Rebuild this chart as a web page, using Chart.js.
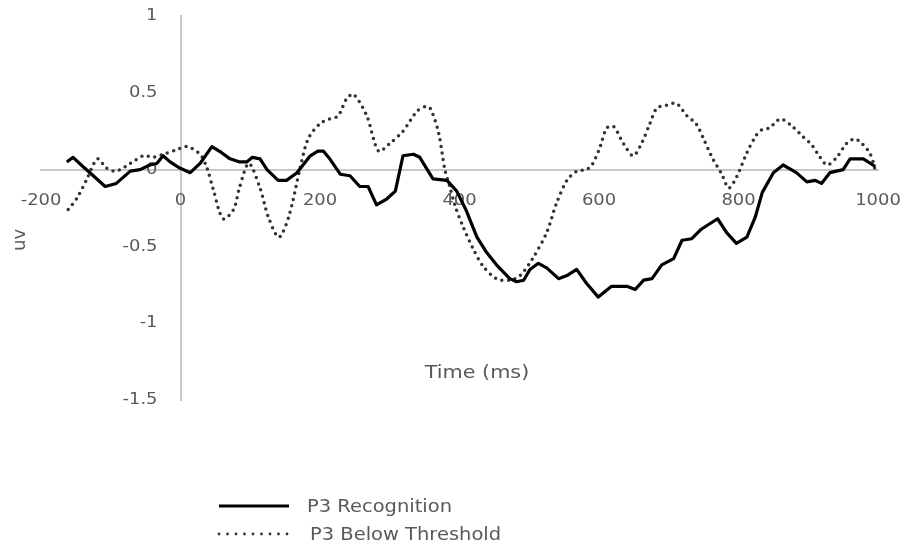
<!DOCTYPE html>
<html>
<head>
<meta charset="utf-8">
<script src="https://cdn.jsdelivr.net/npm/chart.js@4.4.0/dist/chart.umd.min.js"></script>
<style>
  html, body { margin: 0; padding: 0; background: #fff; }
  #wrap { width: 905px; height: 548px; position: relative; }
</style>
</head>
<body>
<div id="wrap"><canvas id="erpChart"></canvas></div>
<script>
// values (time in ms, amplitude in uv)
const recTime = [-163, -154, -140, -125, -108, -92, -72, -58, -44, -34, -25, -15, -1, 14, 28, 45, 59, 71, 85, 95, 103, 114, 124, 140, 152, 167, 186, 197, 205, 214, 229, 243, 257, 269, 281, 296, 308, 319, 334, 343, 362, 382, 396, 410, 425, 439, 453, 472, 482, 492, 501, 513, 525, 542, 554, 568, 582, 599, 618, 640, 652, 664, 676, 690, 707, 719, 733, 746, 770, 783, 797, 812, 824, 834, 850, 864, 883, 898, 910, 919, 931, 950, 960, 979, 996];
const recUv = [0.05, 0.08, 0.02, -0.04, -0.11, -0.09, -0.01, 0.00, 0.03, 0.04, 0.09, 0.05, 0.01, -0.02, 0.04, 0.15, 0.11, 0.07, 0.05, 0.05, 0.08, 0.07, 0.00, -0.07, -0.07, -0.02, 0.09, 0.12, 0.12, 0.07, -0.03, -0.04, -0.11, -0.11, -0.23, -0.19, -0.14, 0.09, 0.10, 0.08, -0.06, -0.07, -0.14, -0.27, -0.44, -0.54, -0.62, -0.71, -0.73, -0.72, -0.65, -0.61, -0.64, -0.71, -0.69, -0.65, -0.74, -0.83, -0.76, -0.76, -0.78, -0.72, -0.71, -0.62, -0.58, -0.46, -0.45, -0.39, -0.32, -0.41, -0.48, -0.44, -0.31, -0.15, -0.02, 0.03, -0.02, -0.08, -0.07, -0.09, -0.02, 0.00, 0.07, 0.07, 0.02];

const belowTime = [-161, -149, -135, -119, -106, -92, -72, -53, -39, -25, -5, 9, 28, 38, 47, 61, 76, 85, 98, 114, 126, 141, 155, 171, 183, 200, 214, 226, 238, 248, 267, 284, 300, 319, 339, 351, 358, 370, 379, 386, 394, 405, 420, 434, 453, 472, 487, 506, 525, 539, 554, 568, 582, 590, 601, 611, 621, 635, 649, 661, 673, 683, 697, 711, 726, 739, 751, 762, 776, 786, 797, 812, 825, 834, 844, 860, 875, 891, 905, 917, 927, 941, 955, 967, 977, 989, 996];
const belowUv = [-0.26, -0.19, -0.07, 0.07, 0.01, -0.01, 0.04, 0.09, 0.08, 0.10, 0.13, 0.15, 0.10, 0.01, -0.13, -0.32, -0.26, -0.11, 0.04, -0.12, -0.31, -0.44, -0.31, 0.00, 0.20, 0.30, 0.33, 0.35, 0.46, 0.49, 0.35, 0.12, 0.17, 0.25, 0.38, 0.41, 0.40, 0.24, 0.00, -0.11, -0.24, -0.37, -0.52, -0.63, -0.71, -0.72, -0.69, -0.57, -0.41, -0.22, -0.07, -0.01, 0.00, 0.03, 0.14, 0.27, 0.28, 0.17, 0.09, 0.17, 0.30, 0.40, 0.42, 0.43, 0.35, 0.30, 0.19, 0.08, -0.03, -0.12, -0.05, 0.11, 0.22, 0.26, 0.27, 0.33, 0.29, 0.22, 0.16, 0.08, 0.03, 0.08, 0.17, 0.20, 0.17, 0.10, 0.00];

const seriesNames = ['P3 Recognition', 'P3 Below Threshold'];
const xTitle = 'Time (ms)';
const yTitle = 'uv';

const tickColor = '#595959';
const axisColor = '#c8c8c8';
const textFont = '"DejaVu Sans"';
const textStretch = 1.12; // the source picture is a bit wider than tall

function toPoints(xs, ys) {
  return xs.map((x, i) => ({ x: x, y: ys[i] }));
}

// draws text a little wider, like the picture
function wideText(ctx, txt, x, y, align, size) {
  ctx.save();
  ctx.font = size + 'px ' + textFont;
  ctx.textAlign = align;
  ctx.textBaseline = 'middle';
  ctx.translate(x, y);
  ctx.scale(textStretch, 1);
  ctx.fillText(txt, 0, 0);
  ctx.restore();
}

// tick labels sit off the axes, drawn under the lines
const tickText = {
  id: 'tickText',
  beforeDatasetsDraw(chart) {
    const ctx = chart.ctx;
    const xs = chart.scales.x;
    const ys = chart.scales.y;
    const x0 = xs.getPixelForValue(0);
    const y0 = ys.getPixelForValue(0);
    ctx.save();
    ctx.fillStyle = tickColor;
    xs.ticks.forEach(t => {
      wideText(ctx, String(t.value), xs.getPixelForValue(t.value), y0 + 31, 'center', 16);
    });
    ys.ticks.forEach(t => {
      wideText(ctx, String(t.value), x0 - 23, ys.getPixelForValue(t.value), 'right', 16);
    });
    ctx.restore();
  }
};

// axis titles and legend drawn by hand, Excel puts them in odd spots
const extraText = {
  id: 'extraText',
  afterDraw(chart) {
    const ctx = chart.ctx;
    ctx.save();
    ctx.fillStyle = tickColor;
    wideText(ctx, xTitle, 477, 373, 'center', 18.5);

    ctx.save();
    ctx.translate(20, 240);
    ctx.rotate(-Math.PI / 2);
    ctx.font = '18px ' + textFont;
    ctx.textAlign = 'center';
    ctx.textBaseline = 'middle';
    ctx.fillText(yTitle, 0, 0);
    ctx.restore();

    // legend rows
    chart.data.datasets.forEach((ds, i) => {
      const y = 506 + i * 28;
      ctx.save();
      ctx.strokeStyle = ds.borderColor;
      if (ds.borderDash && ds.borderDash.length) {
        ctx.setLineDash([0, 8.5]);
        ctx.lineCap = 'round';
        ctx.lineWidth = 2.8;
      } else {
        ctx.lineWidth = 3.2;
      }
      ctx.beginPath();
      ctx.moveTo(219, y);
      ctx.lineTo(289, y);
      ctx.stroke();
      ctx.restore();

      ctx.fillStyle = tickColor;
      wideText(ctx, ds.label, i === 0 ? 307 : 310, y + 1, 'left', 17.4);
    });
    ctx.restore();
  }
};

new Chart(document.getElementById('erpChart'), {
  type: 'line',
  data: {
    datasets: [
      {
        label: seriesNames[0],
        data: toPoints(recTime, recUv),
        borderColor: '#000000',
        borderWidth: 3.2,
        borderJoinStyle: 'round',
        pointRadius: 0,
        tension: 0,
        fill: false
      },
      {
        label: seriesNames[1],
        data: toPoints(belowTime, belowUv),
        borderColor: '#333333',
        borderWidth: 3.5,
        borderDash: [0, 6.6],
        borderCapStyle: 'round',
        pointRadius: 0,
        tension: 0.3,
        fill: false
      }
    ]
  },
  options: {
    responsive: true,
    maintainAspectRatio: false,
    animation: false,
    devicePixelRatio: 1,
    layout: { padding: { left: 41, right: 27, top: 16, bottom: 148 } },
    plugins: {
      legend: { display: false },
      tooltip: { enabled: false }
    },
    scales: {
      x: {
        type: 'linear',
        min: -200,
        max: 1000,
        position: { y: 0 },
        grid: { drawOnChartArea: false, drawTicks: false, color: 'transparent' },
        border: { display: true, color: axisColor, width: 2 },
        ticks: { stepSize: 200, display: false }
      },
      y: {
        type: 'linear',
        min: -1.5,
        max: 1,
        position: { x: 0 },
        grid: { drawOnChartArea: false, drawTicks: false, color: 'transparent' },
        border: { display: true, color: axisColor, width: 2 },
        ticks: { stepSize: 0.5, display: false }
      }
    }
  },
  plugins: [tickText, extraText]
});
</script>
</body>
</html>
